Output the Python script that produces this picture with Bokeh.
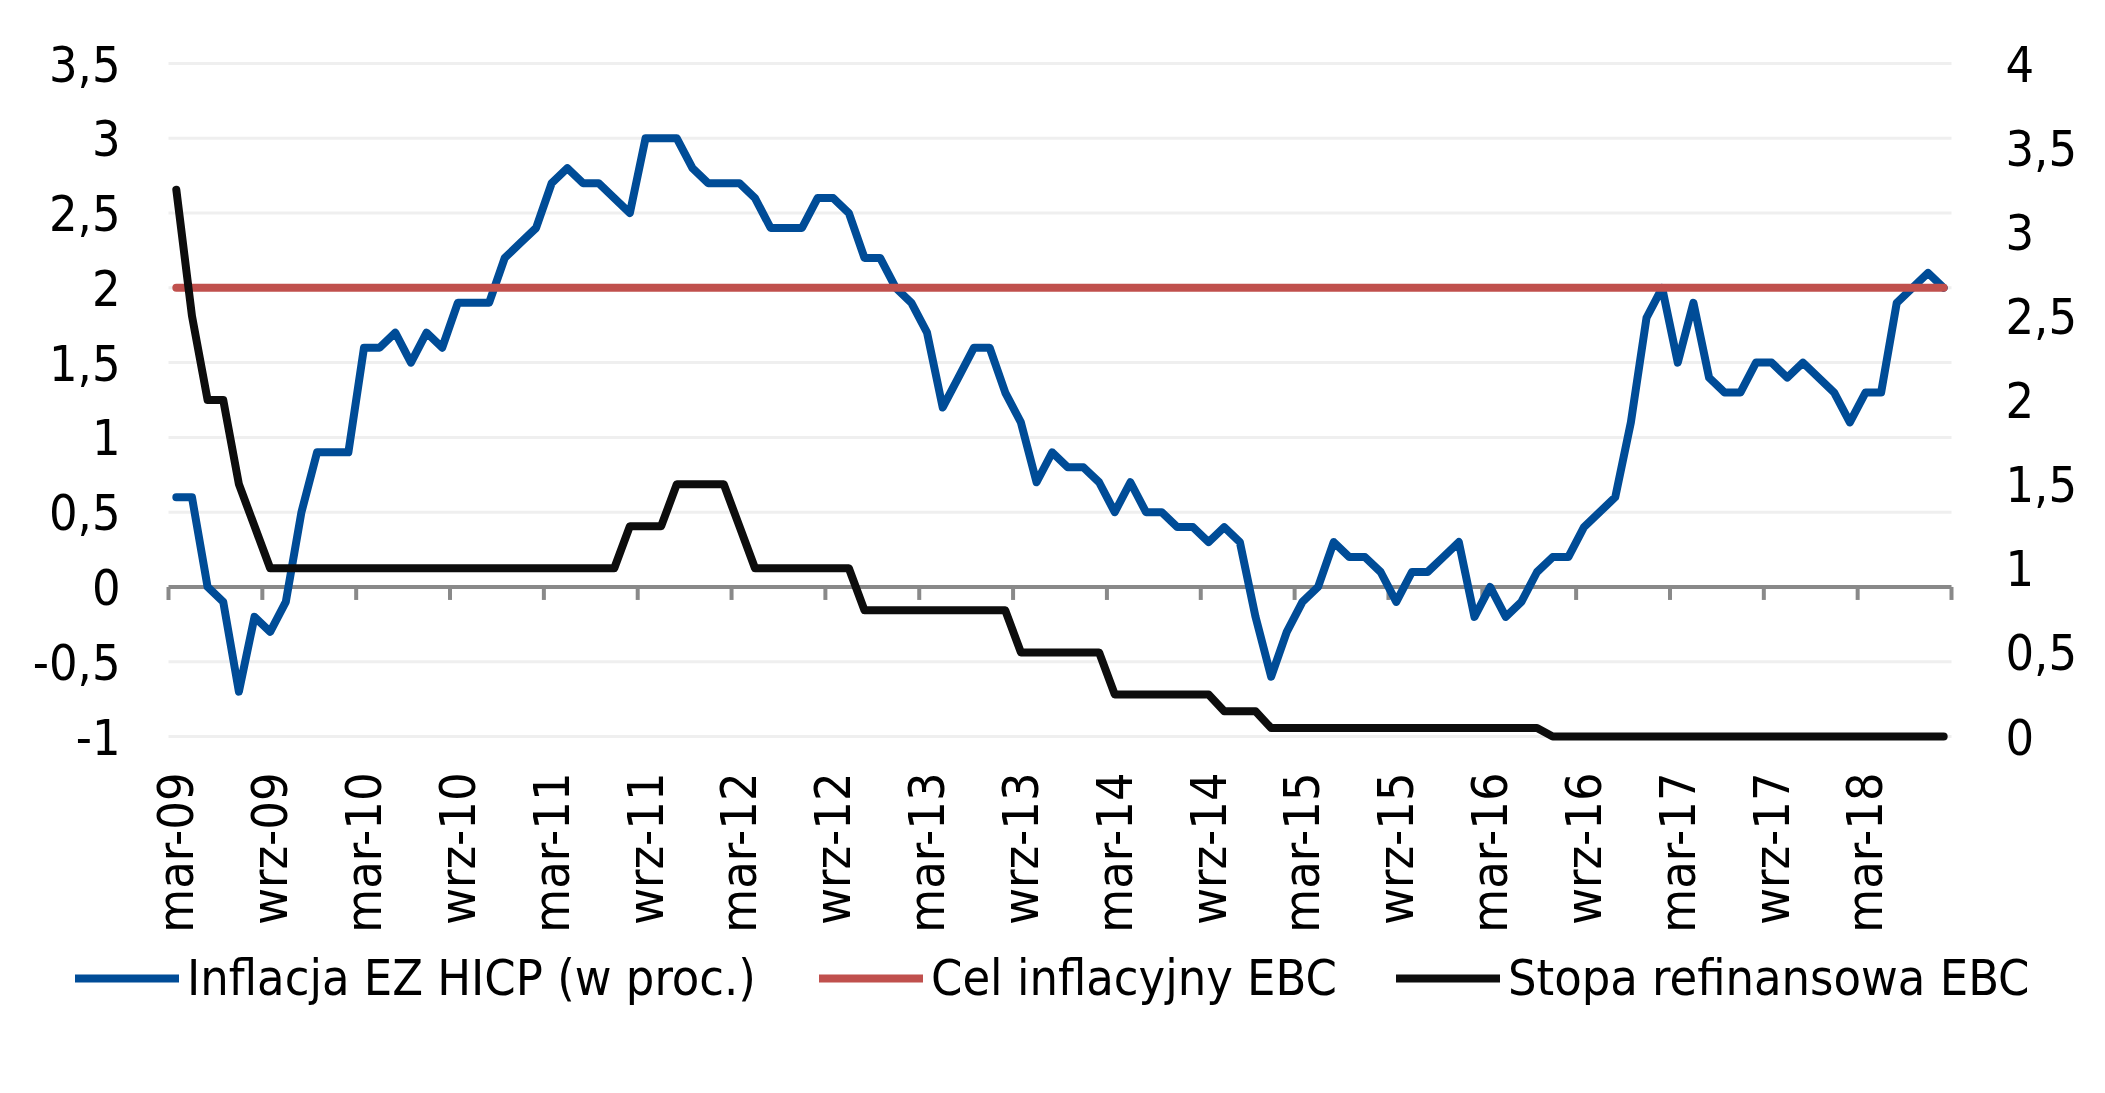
import math

from bokeh.core.properties import value
from bokeh.embed import file_html
from bokeh.models import ColumnDataSource, Legend, LegendItem, Range1d
from bokeh.plotting import figure
from bokeh.resources import INLINE

# ---- data: monthly, first point = mar-09, last point = sie-18 ----
hicp_yoy = [
    0.6, 0.6, 0.0, -0.1, -0.7, -0.2, -0.3, -0.1, 0.5, 0.9,          # 2009 (mar-gru)
    0.9, 0.9, 1.6, 1.6, 1.7, 1.5, 1.7, 1.6, 1.9, 1.9, 1.9, 2.2,     # 2010
    2.3, 2.4, 2.7, 2.8, 2.7, 2.7, 2.6, 2.5, 3.0, 3.0, 3.0, 2.8,     # 2011
    2.7, 2.7, 2.7, 2.6, 2.4, 2.4, 2.4, 2.6, 2.6, 2.5, 2.2, 2.2,     # 2012
    2.0, 1.9, 1.7, 1.2, 1.4, 1.6, 1.6, 1.3, 1.1, 0.7, 0.9, 0.8,     # 2013
    0.8, 0.7, 0.5, 0.7, 0.5, 0.5, 0.4, 0.4, 0.3, 0.4, 0.3, -0.2,    # 2014
    -0.6, -0.3, -0.1, 0.0, 0.3, 0.2, 0.2, 0.1, -0.1, 0.1, 0.1, 0.2, # 2015
    0.3, -0.2, 0.0, -0.2, -0.1, 0.1, 0.2, 0.2, 0.4, 0.5, 0.6, 1.1,  # 2016
    1.8, 2.0, 1.5, 1.9, 1.4, 1.3, 1.3, 1.5, 1.5, 1.4, 1.5, 1.4,     # 2017
    1.3, 1.1, 1.3, 1.3, 1.9, 2.0, 2.1, 2.0,                         # 2018 (sty-sie)
]

ecb_refi = [
    3.25, 2.5, 2.0, 2.0, 1.5, 1.25, 1.0, 1.0, 1.0, 1.0,
    1.0, 1.0, 1.0, 1.0, 1.0, 1.0, 1.0, 1.0, 1.0, 1.0, 1.0, 1.0,
    1.0, 1.0, 1.0, 1.0, 1.0, 1.0, 1.0, 1.25, 1.25, 1.25, 1.5, 1.5,
    1.5, 1.5, 1.25, 1.0, 1.0, 1.0, 1.0, 1.0, 1.0, 1.0, 0.75, 0.75,
    0.75, 0.75, 0.75, 0.75, 0.75, 0.75, 0.75, 0.75, 0.5, 0.5, 0.5, 0.5,
    0.5, 0.5, 0.25, 0.25, 0.25, 0.25, 0.25, 0.25, 0.25, 0.15, 0.15, 0.15,
    0.05, 0.05, 0.05, 0.05, 0.05, 0.05, 0.05, 0.05, 0.05, 0.05, 0.05, 0.05,
    0.05, 0.05, 0.05, 0.05, 0.05, 0.05, 0.0, 0.0, 0.0, 0.0, 0.0, 0.0,
    0.0, 0.0, 0.0, 0.0, 0.0, 0.0, 0.0, 0.0, 0.0, 0.0, 0.0, 0.0,
    0.0, 0.0, 0.0, 0.0, 0.0, 0.0, 0.0, 0.0,
]

ecb_target = 2.0

tick_labels = [
    "mar-09", "wrz-09", "mar-10", "wrz-10", "mar-11", "wrz-11", "mar-12",
    "wrz-12", "mar-13", "wrz-13", "mar-14", "wrz-14", "mar-15", "wrz-15",
    "mar-16", "wrz-16", "mar-17", "wrz-17", "mar-18",
]
label_step = 6

left_ticks = [-1, -0.5, 0, 0.5, 1, 1.5, 2, 2.5, 3, 3.5]
right_ticks = [0, 0.5, 1, 1.5, 2, 2.5, 3, 3.5, 4]

series_names = ["Inflacja EZ HICP (w proc.)", "Cel inflacyjny EBC", "Stopa refinansowa EBC"]

# ---- page geometry (pixels) ----
W, H = 2105, 1093
PLOT_L, PLOT_R, PLOT_T, PLOT_B = 168, 1951, 63, 736
LEGEND_X = [75, 819, 1396]          # left edge of each legend entry
LEGEND_BOTTOM = 1007

# ---- styling ----
FONT = "Liberation Sans Narrow, DejaVu Sans Condensed, Arial Narrow, sans-serif"
FS = "50px"
BLUE = "#004C97"
RED = "#C0504D"
BLACK = "#0D0D0D"
GRID = "#EFEFEF"
AXIS_GREY = "#898989"
LW = 8

n = len(hicp_yoy)
lmin, lmax = left_ticks[0], left_ticks[-1]
rmin, rmax = right_ticks[0], right_ticks[-1]

# scales: the category area spans PLOT_L..PLOT_R, the value area PLOT_T..PLOT_B;
# the canvas around it holds the tick labels and the legend
px_per_cat = (PLOT_R - PLOT_L) / n
px_per_unit = (PLOT_B - PLOT_T) / (lmax - lmin)
x_range = Range1d(-PLOT_L / px_per_cat, n + (W - PLOT_R) / px_per_cat)
y_range = Range1d(lmin - (H - PLOT_B) / px_per_unit, lmax + PLOT_T / px_per_unit)
r_scale = (rmax - rmin) / (lmax - lmin)
right_range = Range1d(rmin + (y_range.start - lmin) * r_scale,
                      rmax + (y_range.end - lmax) * r_scale)

x = [i + 0.5 for i in range(n)]
src = ColumnDataSource(dict(
    x=x,
    hicp=hicp_yoy,
    target=[ecb_target] * n,
    refi=ecb_refi,
))

p = figure(
    width=W, height=H, x_range=x_range, y_range=y_range,
    output_backend="svg", toolbar_location=None,
    x_axis_location=None, y_axis_location=None, min_border=0,
    background_fill_color="white", border_fill_color="white",
)
p.outline_line_color = None
p.grid.visible = False
p.extra_y_ranges = {"right": right_range}


def fmt(v):
    return str(v).replace(".", ",")


# horizontal gridlines
grid_vals = [t for t in left_ticks if t != 0]
p.segment(x0=[0] * len(grid_vals), x1=[n] * len(grid_vals), y0=grid_vals, y1=grid_vals,
          line_color=GRID, line_width=3)

# category axis through zero, tick marks between every 6th category
p.segment(x0=[0], x1=[n], y0=[0], y1=[0], line_color=AXIS_GREY, line_width=4)
bounds = list(range(0, n + 1, label_step)) + ([n] if n % label_step else [])
tick_len = 13 / px_per_unit
p.segment(x0=bounds, x1=bounds, y0=[0] * len(bounds), y1=[-tick_len] * len(bounds),
          line_color=AXIS_GREY, line_width=4)

# series
line_kw = dict(line_width=LW, line_join="round", line_cap="round")
r_hicp = p.line("x", "hicp", source=src, line_color=BLUE, **line_kw)
r_target = p.line("x", "target", source=src, line_color=RED, **line_kw)
r_refi = p.line("x", "refi", source=src, y_range_name="right", line_color=BLACK, **line_kw)

text_kw = dict(text_font=value(FONT), text_font_size=FS, text_color="black")

# left value labels
p.text(x=[0] * len(left_ticks), y=left_ticks, text=[fmt(t) for t in left_ticks],
       x_offset=-48, text_align="right", text_baseline="middle", **text_kw)
# right value labels (refi rate scale)
p.text(x=[n] * len(right_ticks), y=right_ticks, text=[fmt(t) for t in right_ticks],
       x_offset=54, text_align="left", text_baseline="middle",
       y_range_name="right", **text_kw)
# rotated category labels under the value area
label_x = [i + 0.5 for i in range(0, n, label_step)][:len(tick_labels)]
p.text(x=label_x, y=[lmin] * len(label_x), text=tick_labels, angle=math.pi / 2,
       y_offset=36, text_align="right", text_baseline="middle", **text_kw)

# legend: one entry per series, placed along the bottom row
for name, rend, lx in zip(series_names, [r_hicp, r_target, r_refi], LEGEND_X):
    lg = Legend(
        items=[LegendItem(label=name, renderers=[rend])],
        location=(lx, H - LEGEND_BOTTOM),
        label_text_font=FONT, label_text_font_size=FS, label_text_color="black",
        glyph_width=104, glyph_height=30, label_standoff=8,
        padding=0, margin=0, border_line_color=None, background_fill_alpha=0,
    )
    p.add_layout(lg)

open("out.html", "w").write(file_html(p, INLINE))
